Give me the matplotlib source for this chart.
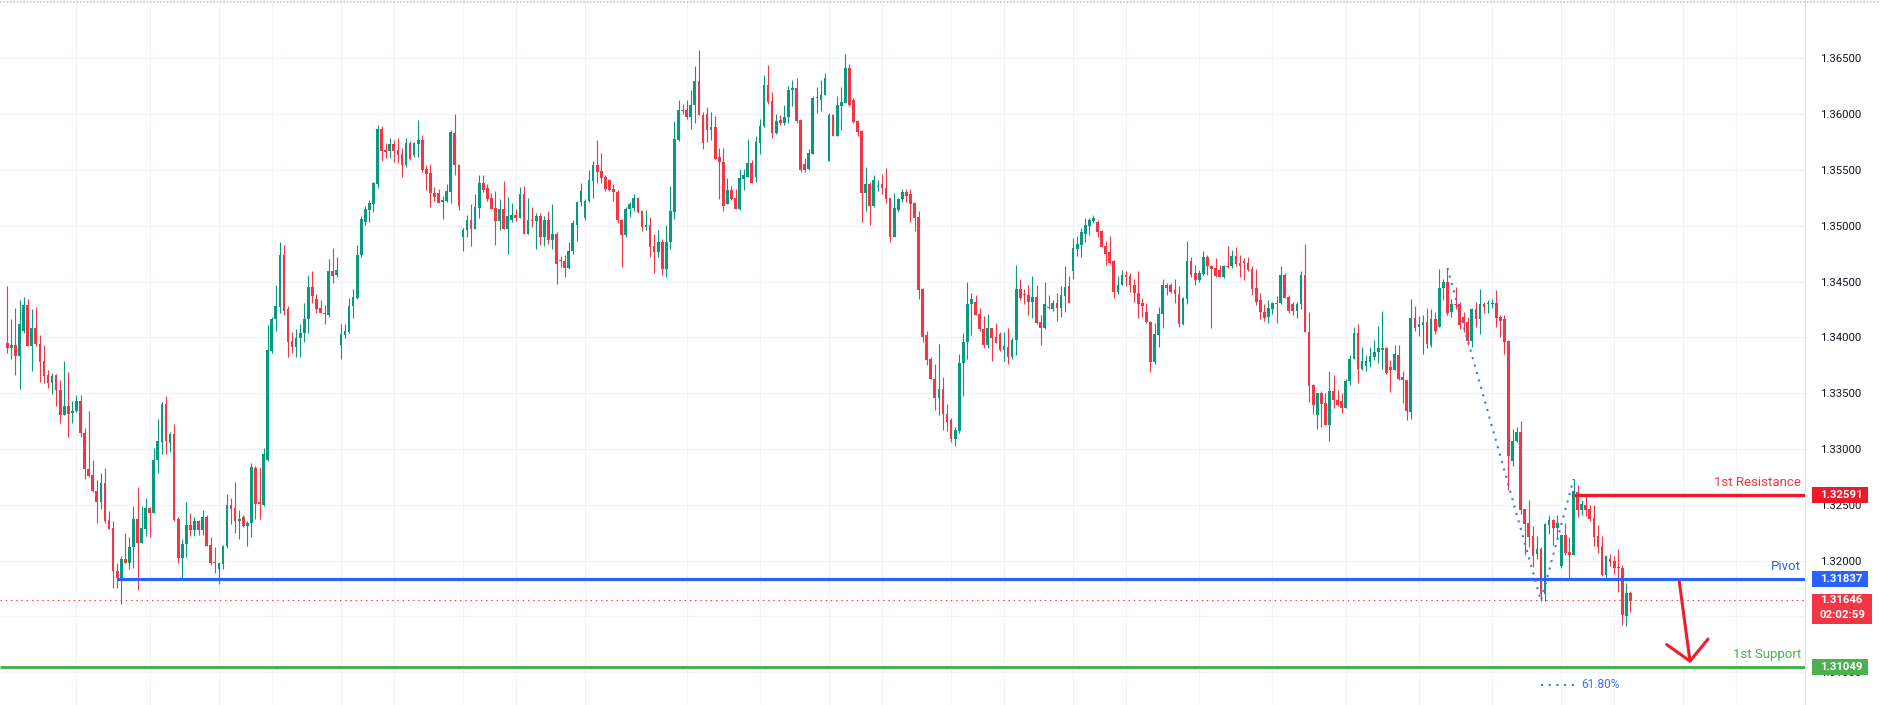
import numpy as np
import matplotlib
matplotlib.use("Agg")
import matplotlib.pyplot as plt
import matplotlib.transforms as mtransforms
from matplotlib.patches import Rectangle
from matplotlib.lines import Line2D

plt.rcParams['font.family'] = ['Roboto', 'DejaVu Sans']

# hourly candles, oldest first
opens = [
    1.3395, 1.3390, 1.3393, 1.3383, 1.3406, 1.3429, 1.3392, 1.3408, 1.3394, 1.3379,
    1.3366, 1.3359, 1.3366, 1.3353, 1.3330, 1.3338, 1.3332, 1.3334, 1.3343, 1.3314,
    1.3282, 1.3277, 1.3262, 1.3252, 1.3269, 1.3236, 1.3229, 1.3191, 1.3184, 1.3201,
    1.3198, 1.3212, 1.3237, 1.3216, 1.3228, 1.3247, 1.3243, 1.3290, 1.3306, 1.3340,
    1.3305, 1.3313, 1.3237, 1.3202, 1.3215, 1.3232, 1.3227, 1.3235, 1.3227, 1.3239,
    1.3214, 1.3199, 1.3192, 1.3197, 1.3213, 1.3250, 1.3247, 1.3235, 1.3239, 1.3231,
    1.3234, 1.3283, 1.3252, 1.3250, 1.3290, 1.3388, 1.3416, 1.3427, 1.3474, 1.3425,
    1.3397, 1.3391, 1.3399, 1.3404, 1.3416, 1.3445, 1.3434, 1.3426, 1.3422, 1.3420,
    1.3459, 1.3456, 1.3393, 1.3402, 1.3405, 1.3428, 1.3435, 1.3474, 1.3503, 1.3514,
    1.3519, 1.3537, 1.3587, 1.3568, 1.3567, 1.3573, 1.3568, 1.3564, 1.3554, 1.3574,
    1.3563, 1.3573, 1.3577, 1.3551, 1.3547, 1.3529, 1.3529, 1.3521, 1.3522, 1.3530,
    1.3583, 1.3554, 1.3490, 1.3496,
    1.3505, 1.3497, 1.3516, 1.3538, 1.3534, 1.3525, 1.3516, 1.3504, 1.3515, 1.3497,
    1.3505, 1.3510, 1.3507, 1.3528, 1.3493, 1.3505, 1.3504, 1.3509, 1.3490, 1.3505,
    1.3487, 1.3493, 1.3469, 1.3468, 1.3462, 1.3477, 1.3501, 1.3521, 1.3507, 1.3522,
    1.3540, 1.3554, 1.3549, 1.3544, 1.3541, 1.3533, 1.3530, 1.3505, 1.3492,
    1.3515, 1.3516, 1.3525, 1.3513, 1.3499, 1.3501, 1.3482, 1.3476, 1.3485, 1.3461,
    1.3485, 1.3512, 1.3577, 1.3604, 1.3604, 1.3597, 1.3608, 1.3630, 1.3599, 1.3600,
    1.3586, 1.3588, 1.3562, 1.3557, 1.3519, 1.3532, 1.3525, 1.3515, 1.3542, 1.3544,
    1.3556, 1.3544, 1.3574, 1.3589, 1.3626, 1.3612, 1.3583, 1.3595, 1.3592,
    1.3597, 1.3622, 1.3623, 1.3595, 1.3555, 1.3551, 1.3564, 1.3614, 1.3613, 1.3617,
    1.3558, 1.3599, 1.3580, 1.3607, 1.3610, 1.3641, 1.3613, 1.3594, 1.3585, 1.3529,
    1.3537, 1.3518, 1.3535, 1.3537, 1.3534, 1.3525, 1.3490, 1.3514, 1.3524, 1.3530,
    1.3528, 1.3520, 1.3508, 1.3443, 1.3402, 1.3381, 1.3363,
    1.3346, 1.3354, 1.3331, 1.3326, 1.3309, 1.3316, 1.3377, 1.3396, 1.3430, 1.3432,
    1.3421, 1.3407, 1.3393, 1.3408, 1.3400, 1.3403, 1.3389, 1.3391, 1.3382, 1.3398,
    1.3443, 1.3439, 1.3438, 1.3432, 1.3436, 1.3414, 1.3408, 1.3427, 1.3425, 1.3431,
    1.3426, 1.3437, 1.3446, 1.3459, 1.3479, 1.3483, 1.3493, 1.3500, 1.3504, 1.3503,
    1.3495, 1.3482, 1.3476, 1.3468, 1.3441, 1.3447, 1.3456, 1.3455, 1.3447, 1.3440,
    1.3431, 1.3423, 1.3414, 1.3378, 1.3402, 1.3421, 1.3447, 1.3447, 1.3442,
    1.3439, 1.3412, 1.3434, 1.3468, 1.3458, 1.3451, 1.3457, 1.3472, 1.3464, 1.3462,
    1.3460, 1.3454, 1.3464, 1.3464, 1.3473, 1.3467, 1.3468, 1.3467, 1.3461, 1.3444,
    1.3433, 1.3423, 1.3418, 1.3425, 1.3431, 1.3431, 1.3456, 1.3436, 1.3430, 1.3424,
    1.3430, 1.3456, 1.3405, 1.3357, 1.3330, 1.3350, 1.3341, 1.3321, 1.3352, 1.3344,
    1.3343, 1.3337, 1.3361, 1.3381, 1.3404, 1.3372, 1.3374, 1.3378, 1.3382, 1.3387,
    1.3389, 1.3390, 1.3373, 1.3371, 1.3384, 1.3364, 1.3362,
    1.3333, 1.3417, 1.3409, 1.3411, 1.3414, 1.3393, 1.3416, 1.3409, 1.3444, 1.3450,
    1.3423, 1.3430, 1.3430, 1.3418, 1.3414, 1.3397, 1.3425, 1.3416, 1.3430, 1.3430,
    1.3430, 1.3431, 1.3418, 1.3416, 1.3397, 1.3289, 1.3307, 1.3315, 1.3246, 1.3234,
    1.3222, 1.3206, 1.3210, 1.3170, 1.3232, 1.3236, 1.3229, 1.3195, 1.3223, 1.3208,
    1.3205, 1.3261, 1.3245, 1.3250, 1.3246, 1.3238, 1.3222, 1.3213, 1.3187, 1.3201,
    1.3200, 1.3194, 1.3193, 1.3150, 1.3171,
]
highs = [
    1.3446, 1.3416, 1.3426, 1.3433, 1.3436, 1.3434, 1.3425, 1.3427, 1.3402, 1.3393,
    1.3371, 1.3368, 1.3367, 1.3362, 1.3379, 1.3369, 1.3343, 1.3348, 1.3348, 1.3319,
    1.3334, 1.3290, 1.3272, 1.3278, 1.3283, 1.3244, 1.3235, 1.3198, 1.3204, 1.3225,
    1.3221, 1.3249, 1.3266, 1.3249, 1.3256, 1.3248, 1.3301, 1.3327, 1.3342, 1.3347,
    1.3315, 1.3322, 1.3239, 1.3219, 1.3252, 1.3243, 1.3239, 1.3236, 1.3245, 1.3241,
    1.3221, 1.3212, 1.3199, 1.3214, 1.3260, 1.3256, 1.3270, 1.3245, 1.3241, 1.3235,
    1.3287, 1.3285, 1.3284, 1.3301, 1.3411, 1.3418, 1.3447, 1.3485, 1.3483, 1.3428,
    1.3405, 1.3407, 1.3412, 1.3431, 1.3456, 1.3459, 1.3439, 1.3433, 1.3429, 1.3470,
    1.3480, 1.3472, 1.3412, 1.3412, 1.3435, 1.3443, 1.3483, 1.3509, 1.3518, 1.3523,
    1.3539, 1.3590, 1.3589, 1.3574, 1.3579, 1.3577, 1.3579, 1.3570, 1.3579, 1.3576,
    1.3575, 1.3595, 1.3581, 1.3554, 1.3555, 1.3535, 1.3533, 1.3527, 1.3537, 1.3586,
    1.3600, 1.3555, 1.3498, 1.3510,
    1.3519, 1.3528, 1.3545, 1.3545, 1.3537, 1.3529, 1.3531, 1.3524, 1.3540, 1.3526,
    1.3520, 1.3515, 1.3535, 1.3536, 1.3525, 1.3517, 1.3511, 1.3511, 1.3509, 1.3513,
    1.3519, 1.3494, 1.3473, 1.3474, 1.3485, 1.3505, 1.3522, 1.3538, 1.3524, 1.3550,
    1.3558, 1.3577, 1.3565, 1.3545, 1.3542, 1.3537, 1.3532, 1.3506, 1.3517,
    1.3521, 1.3528, 1.3526, 1.3514, 1.3514, 1.3508, 1.3493, 1.3496, 1.3488, 1.3501,
    1.3536, 1.3594, 1.3613, 1.3609, 1.3613, 1.3622, 1.3643, 1.3657, 1.3602, 1.3606,
    1.3602, 1.3598, 1.3570, 1.3570, 1.3543, 1.3536, 1.3533, 1.3551, 1.3551, 1.3578,
    1.3559, 1.3580, 1.3596, 1.3635, 1.3644, 1.3620, 1.3600, 1.3599, 1.3608,
    1.3625, 1.3631, 1.3632, 1.3596, 1.3561, 1.3569, 1.3616, 1.3624, 1.3631, 1.3637,
    1.3601, 1.3600, 1.3616, 1.3624, 1.3654, 1.3645, 1.3614, 1.3595, 1.3586, 1.3553,
    1.3539, 1.3545, 1.3541, 1.3546, 1.3552, 1.3525, 1.3529, 1.3525, 1.3533, 1.3533,
    1.3533, 1.3521, 1.3513, 1.3444, 1.3406, 1.3382, 1.3376,
    1.3394, 1.3364, 1.3340, 1.3328, 1.3320, 1.3385, 1.3404, 1.3450, 1.3440, 1.3438,
    1.3426, 1.3419, 1.3421, 1.3408, 1.3413, 1.3405, 1.3405, 1.3408, 1.3399, 1.3465,
    1.3452, 1.3443, 1.3447, 1.3455, 1.3447, 1.3420, 1.3450, 1.3438, 1.3433, 1.3440,
    1.3446, 1.3464, 1.3455, 1.3489, 1.3491, 1.3498, 1.3507, 1.3507, 1.3510, 1.3505,
    1.3496, 1.3486, 1.3491, 1.3469, 1.3455, 1.3460, 1.3459, 1.3458, 1.3452, 1.3459,
    1.3435, 1.3431, 1.3415, 1.3413, 1.3427, 1.3452, 1.3449, 1.3449, 1.3452,
    1.3446, 1.3436, 1.3486, 1.3472, 1.3465, 1.3460, 1.3477, 1.3474, 1.3465, 1.3471,
    1.3465, 1.3465, 1.3482, 1.3478, 1.3481, 1.3474, 1.3471, 1.3472, 1.3464, 1.3461,
    1.3440, 1.3430, 1.3433, 1.3432, 1.3437, 1.3464, 1.3458, 1.3438, 1.3432, 1.3432,
    1.3459, 1.3484, 1.3423, 1.3358, 1.3350, 1.3352, 1.3350, 1.3370, 1.3366, 1.3353,
    1.3350, 1.3363, 1.3384, 1.3409, 1.3412, 1.3391, 1.3384, 1.3391, 1.3398, 1.3410,
    1.3424, 1.3391, 1.3380, 1.3393, 1.3393, 1.3370, 1.3362,
    1.3434, 1.3428, 1.3419, 1.3420, 1.3426, 1.3425, 1.3423, 1.3461, 1.3452, 1.3462,
    1.3434, 1.3445, 1.3432, 1.3423, 1.3418, 1.3426, 1.3432, 1.3443, 1.3432, 1.3433,
    1.3434, 1.3442, 1.3420, 1.3420, 1.3398, 1.3318, 1.3320, 1.3325, 1.3246, 1.3254,
    1.3231, 1.3222, 1.3212, 1.3234, 1.3241, 1.3237, 1.3241, 1.3223, 1.3234, 1.3221,
    1.3273, 1.3268, 1.3254, 1.3258, 1.3250, 1.3250, 1.3232, 1.3222, 1.3205, 1.3206,
    1.3204, 1.3210, 1.3196, 1.3180, 1.3173,
]
lows = [
    1.3386, 1.3381, 1.3366, 1.3354, 1.3404, 1.3392, 1.3370, 1.3392, 1.3360, 1.3359,
    1.3355, 1.3349, 1.3338, 1.3323, 1.3330, 1.3311, 1.3323, 1.3333, 1.3311, 1.3273,
    1.3275, 1.3261, 1.3234, 1.3246, 1.3234, 1.3228, 1.3175, 1.3175, 1.3161, 1.3198,
    1.3192, 1.3193, 1.3174, 1.3216, 1.3222, 1.3221, 1.3243, 1.3278, 1.3295, 1.3295,
    1.3297, 1.3235, 1.3198, 1.3183, 1.3203, 1.3222, 1.3222, 1.3223, 1.3223, 1.3213,
    1.3196, 1.3189, 1.3179, 1.3192, 1.3211, 1.3233, 1.3225, 1.3219, 1.3230, 1.3213,
    1.3221, 1.3237, 1.3237, 1.3249, 1.3289, 1.3386, 1.3406, 1.3422, 1.3420, 1.3382,
    1.3386, 1.3382, 1.3382, 1.3396, 1.3404, 1.3431, 1.3422, 1.3422, 1.3412, 1.3418,
    1.3449, 1.3454, 1.3381, 1.3399, 1.3404, 1.3417, 1.3434, 1.3472, 1.3501, 1.3503,
    1.3512, 1.3534, 1.3558, 1.3561, 1.3561, 1.3557, 1.3556, 1.3544, 1.3553, 1.3559,
    1.3562, 1.3562, 1.3548, 1.3532, 1.3517, 1.3522, 1.3520, 1.3506, 1.3521, 1.3520,
    1.3545, 1.3514, 1.3477, 1.3490,
    1.3482, 1.3497, 1.3507, 1.3530, 1.3522, 1.3515, 1.3483, 1.3496, 1.3497, 1.3475,
    1.3503, 1.3504, 1.3507, 1.3493, 1.3493, 1.3499, 1.3479, 1.3483, 1.3482, 1.3484,
    1.3479, 1.3448, 1.3463, 1.3454, 1.3461, 1.3475, 1.3486, 1.3518, 1.3505, 1.3521,
    1.3525, 1.3538, 1.3538, 1.3531, 1.3531, 1.3522, 1.3502, 1.3463, 1.3490,
    1.3508, 1.3513, 1.3511, 1.3495, 1.3496, 1.3472, 1.3458, 1.3472, 1.3456, 1.3454,
    1.3479, 1.3506, 1.3576, 1.3600, 1.3596, 1.3587, 1.3592, 1.3599, 1.3569, 1.3575,
    1.3577, 1.3560, 1.3524, 1.3513, 1.3519, 1.3523, 1.3515, 1.3514, 1.3532, 1.3544,
    1.3538, 1.3539, 1.3564, 1.3588, 1.3609, 1.3579, 1.3582, 1.3590, 1.3590,
    1.3592, 1.3607, 1.3592, 1.3548, 1.3548, 1.3550, 1.3564, 1.3601, 1.3603, 1.3617,
    1.3558, 1.3580, 1.3580, 1.3586, 1.3610, 1.3607, 1.3592, 1.3580, 1.3503, 1.3513,
    1.3501, 1.3517, 1.3531, 1.3528, 1.3520, 1.3485, 1.3490, 1.3512, 1.3521, 1.3521,
    1.3503, 1.3495, 1.3434, 1.3396, 1.3375, 1.3363, 1.3335,
    1.3330, 1.3317, 1.3316, 1.3306, 1.3303, 1.3314, 1.3347, 1.3381, 1.3402, 1.3420,
    1.3406, 1.3390, 1.3390, 1.3379, 1.3395, 1.3388, 1.3379, 1.3376, 1.3381, 1.3384,
    1.3433, 1.3430, 1.3420, 1.3417, 1.3412, 1.3393, 1.3407, 1.3425, 1.3424, 1.3415,
    1.3418, 1.3423, 1.3431, 1.3452, 1.3473, 1.3472, 1.3485, 1.3492, 1.3502, 1.3490,
    1.3481, 1.3465, 1.3466, 1.3435, 1.3439, 1.3447, 1.3446, 1.3441, 1.3432, 1.3417,
    1.3418, 1.3413, 1.3369, 1.3376, 1.3391, 1.3408, 1.3438, 1.3440, 1.3431,
    1.3409, 1.3411, 1.3430, 1.3454, 1.3447, 1.3450, 1.3456, 1.3456, 1.3408, 1.3454,
    1.3454, 1.3453, 1.3462, 1.3462, 1.3464, 1.3454, 1.3451, 1.3459, 1.3438, 1.3429,
    1.3416, 1.3415, 1.3413, 1.3421, 1.3413, 1.3430, 1.3435, 1.3422, 1.3420, 1.3417,
    1.3425, 1.3405, 1.3342, 1.3331, 1.3318, 1.3320, 1.3321, 1.3307, 1.3337, 1.3338,
    1.3332, 1.3337, 1.3357, 1.3381, 1.3359, 1.3371, 1.3370, 1.3373, 1.3380, 1.3377,
    1.3372, 1.3367, 1.3351, 1.3371, 1.3362, 1.3341, 1.3326,
    1.3327, 1.3406, 1.3401, 1.3385, 1.3390, 1.3391, 1.3403, 1.3409, 1.3433, 1.3420,
    1.3418, 1.3425, 1.3407, 1.3405, 1.3393, 1.3391, 1.3409, 1.3403, 1.3422, 1.3422,
    1.3426, 1.3409, 1.3400, 1.3385, 1.3263, 1.3285, 1.3306, 1.3242, 1.3205, 1.3212,
    1.3194, 1.3201, 1.3164, 1.3164, 1.3224, 1.3214, 1.3219, 1.3193, 1.3205, 1.3184,
    1.3205, 1.3239, 1.3241, 1.3240, 1.3235, 1.3213, 1.3207, 1.3186, 1.3184, 1.3195,
    1.3188, 1.3172, 1.3142, 1.3141, 1.3154,
]
closes = [
    1.3390, 1.3393, 1.3383, 1.3412, 1.3429, 1.3392, 1.3408, 1.3394, 1.3378, 1.3365,
    1.3359, 1.3365, 1.3353, 1.3330, 1.3338, 1.3331, 1.3334, 1.3343, 1.3314, 1.3282,
    1.3276, 1.3262, 1.3252, 1.3269, 1.3235, 1.3228, 1.3191, 1.3184, 1.3201, 1.3198,
    1.3212, 1.3237, 1.3216, 1.3229, 1.3247, 1.3243, 1.3290, 1.3307, 1.3340, 1.3307,
    1.3313, 1.3236, 1.3202, 1.3215, 1.3232, 1.3227, 1.3235, 1.3227, 1.3239, 1.3213,
    1.3198, 1.3198, 1.3198, 1.3213, 1.3250, 1.3246, 1.3235, 1.3237, 1.3231, 1.3234,
    1.3284, 1.3251, 1.3251, 1.3295, 1.3389, 1.3416, 1.3428, 1.3474, 1.3424, 1.3396,
    1.3391, 1.3399, 1.3404, 1.3416, 1.3445, 1.3437, 1.3425, 1.3422, 1.3421, 1.3459,
    1.3455, 1.3460, 1.3403, 1.3406, 1.3428, 1.3436, 1.3474, 1.3506, 1.3515, 1.3520,
    1.3538, 1.3587, 1.3567, 1.3566, 1.3573, 1.3567, 1.3563, 1.3554, 1.3574, 1.3560,
    1.3574, 1.3577, 1.3550, 1.3546, 1.3529, 1.3526, 1.3520, 1.3523, 1.3531, 1.3584,
    1.3554, 1.3518, 1.3496, 1.3505,
    1.3497, 1.3517, 1.3538, 1.3532, 1.3524, 1.3515, 1.3504, 1.3515, 1.3497, 1.3509,
    1.3510, 1.3507, 1.3528, 1.3493, 1.3505, 1.3504, 1.3509, 1.3490, 1.3505, 1.3487,
    1.3493, 1.3466, 1.3468, 1.3462, 1.3477, 1.3502, 1.3521, 1.3531, 1.3522, 1.3541,
    1.3554, 1.3548, 1.3543, 1.3533, 1.3532, 1.3530, 1.3505, 1.3492, 1.3515,
    1.3519, 1.3525, 1.3512, 1.3499, 1.3501, 1.3481, 1.3476, 1.3485, 1.3461, 1.3485,
    1.3513, 1.3578, 1.3604, 1.3603, 1.3597, 1.3608, 1.3630, 1.3599, 1.3574, 1.3586,
    1.3588, 1.3560, 1.3557, 1.3518, 1.3532, 1.3524, 1.3515, 1.3543, 1.3545, 1.3556,
    1.3538, 1.3575, 1.3589, 1.3626, 1.3611, 1.3583, 1.3594, 1.3592, 1.3597,
    1.3622, 1.3623, 1.3594, 1.3550, 1.3550, 1.3565, 1.3614, 1.3615, 1.3617, 1.3632,
    1.3599, 1.3580, 1.3608, 1.3611, 1.3641, 1.3608, 1.3593, 1.3584, 1.3529, 1.3537,
    1.3518, 1.3541, 1.3536, 1.3534, 1.3524, 1.3490, 1.3516, 1.3524, 1.3530, 1.3527,
    1.3519, 1.3507, 1.3442, 1.3400, 1.3380, 1.3363, 1.3346,
    1.3354, 1.3331, 1.3324, 1.3309, 1.3317, 1.3377, 1.3396, 1.3430, 1.3434, 1.3420,
    1.3407, 1.3393, 1.3408, 1.3399, 1.3395, 1.3389, 1.3392, 1.3382, 1.3398, 1.3443,
    1.3435, 1.3438, 1.3432, 1.3436, 1.3413, 1.3408, 1.3430, 1.3426, 1.3431, 1.3426,
    1.3438, 1.3445, 1.3431, 1.3480, 1.3484, 1.3494, 1.3501, 1.3505, 1.3507, 1.3494,
    1.3481, 1.3475, 1.3467, 1.3441, 1.3447, 1.3456, 1.3454, 1.3447, 1.3440, 1.3430,
    1.3428, 1.3414, 1.3378, 1.3403, 1.3421, 1.3447, 1.3444, 1.3441, 1.3439,
    1.3412, 1.3435, 1.3468, 1.3456, 1.3451, 1.3458, 1.3472, 1.3464, 1.3461, 1.3455,
    1.3454, 1.3464, 1.3463, 1.3473, 1.3466, 1.3464, 1.3467, 1.3460, 1.3443, 1.3432,
    1.3423, 1.3417, 1.3426, 1.3431, 1.3430, 1.3456, 1.3435, 1.3424, 1.3424, 1.3430,
    1.3456, 1.3405, 1.3356, 1.3339, 1.3350, 1.3340, 1.3321, 1.3352, 1.3344, 1.3339,
    1.3337, 1.3361, 1.3381, 1.3404, 1.3372, 1.3379, 1.3379, 1.3383, 1.3387, 1.3390,
    1.3390, 1.3368, 1.3371, 1.3385, 1.3363, 1.3362, 1.3334,
    1.3417, 1.3408, 1.3412, 1.3414, 1.3394, 1.3416, 1.3406, 1.3444, 1.3450, 1.3422,
    1.3430, 1.3429, 1.3411, 1.3413, 1.3397, 1.3425, 1.3416, 1.3430, 1.3427, 1.3431,
    1.3431, 1.3417, 1.3415, 1.3396, 1.3294, 1.3307, 1.3315, 1.3245, 1.3233, 1.3221,
    1.3204, 1.3210, 1.3170, 1.3233, 1.3236, 1.3229, 1.3234, 1.3223, 1.3207, 1.3205,
    1.3262, 1.3245, 1.3251, 1.3245, 1.3237, 1.3221, 1.3212, 1.3187, 1.3204, 1.3199,
    1.3193, 1.3193, 1.3151, 1.3171, 1.3164,
]

n = len(closes)
assert len(opens) == len(highs) == len(lows) == n

# levels drawn on the chart
resistance = 1.32591
pivot = 1.31837
support = 1.31049
last_price = 1.31646
countdown = "02:02:59"

# fib extension anchors (bar index, price) and its level
fib_bars = [354, 377, 385]
fib_prices = [1.3462, 1.3164, 1.3273]
fib_ratio = 0.618

# hand drawn arrow (bar index, price)
arrow_bars = [411.0, 413.7]
arrow_prices = [1.3181, 1.3108]

day_lines = [17, 35, 52, 65, 82, 95, 112, 125, 142, 167, 185, 202, 215,
             232, 245, 262, 275, 293, 311, 329, 347, 365, 382, 395, 412, 425]
price_ticks = [1.310, 1.315, 1.320, 1.325, 1.330, 1.335, 1.340,
               1.345, 1.350, 1.355, 1.360, 1.365]

GREEN = '#089981'
RED = '#f23645'
RES = '#f0182a'
BLUE = '#2962ff'
SUP = '#4caf50'
GRID = '#f0f3fa'

W, H = 1881, 705
fig = plt.figure(figsize=(W / 100, H / 100), dpi=100)
fig.patch.set_facecolor('white')
ax = fig.add_axes([0, 0, 1805 / W, 1])
x0, x1 = -1.8, 441.9
y0, y1 = 1.307052, 1.370224
ax.set_xlim(x0, x1)
ax.set_ylim(y0, y1)
ppx = (y1 - y0) / H  # price per pixel

# grid + axis
ax.set_xticks(day_lines)
ax.set_yticks(price_ticks)
ax.grid(True, color=GRID, lw=0.8, zorder=0)
ax.set_axisbelow(True)
ax.tick_params(axis='x', length=0, labelbottom=False)
ax.yaxis.tick_right()
ax.tick_params(axis='y', length=0, pad=11, labelsize=8.2, labelcolor='#131722')
ax.yaxis.set_major_formatter(plt.FormatStrFormatter('%.5f'))
for s in ['top', 'left', 'bottom']:
    ax.spines[s].set_visible(False)
ax.spines['right'].set_color('#e0e3eb')

# candles
o = np.array(opens)
h = np.array(highs)
l = np.array(lows)
c = np.array(closes)
xs = np.arange(n)
cols = np.where(c >= o, GREEN, RED)
ax.vlines(xs, l, h, colors=cols, lw=0.8, zorder=3)
body_lo = np.minimum(o, c)
body_h = np.maximum(np.abs(c - o), 0.00009)
ax.bar(xs, body_h, bottom=body_lo, width=0.66, color=cols, lw=0, zorder=4)

# price line of the last bar
ax.plot([x0, x1], [last_price] * 2, color=RED, lw=0.8, ls=(0, (1.3, 3.4)), zorder=2)

# support / pivot / resistance
ax.plot([x0, x1], [support] * 2, color=SUP, lw=2.2, zorder=5, solid_capstyle='butt')
ax.plot([27, x1], [pivot] * 2, color=BLUE, lw=2.3, zorder=5, solid_capstyle='butt')
ax.plot([385, x1], [resistance] * 2, color=RES, lw=2.4, zorder=5, solid_capstyle='butt')

blend = mtransforms.blended_transform_factory(ax.transAxes, ax.transData)
for txt, lvl, col in [('1st Resistance', resistance, RED), ('Pivot', pivot, BLUE),
                      ('1st Support', support, SUP)]:
    ax.annotate(txt, xy=(1, lvl), xycoords=blend, xytext=(-4, 12),
                textcoords='offset pixels', ha='right', va='center',
                color=col, fontsize=9.5, zorder=7)

# fib extension drawing
fib_col = '#3d72f7'
ax.plot(fib_bars, fib_prices, color=fib_col, lw=1.5, ls=(0, (1, 2.7)), zorder=6)
fib_level = fib_prices[2] - fib_ratio * (fib_prices[0] - fib_prices[1])
ax.plot([fib_bars[1], fib_bars[2]], [fib_level] * 2, color=fib_col, lw=1.5,
        ls=(0, (1, 2.7)), zorder=6)
ax.annotate('61.80%', xy=(fib_bars[2], fib_level), xytext=(8, 0),
            textcoords='offset pixels', ha='left', va='center',
            color=fib_col, fontsize=8.6, zorder=7)

# arrow
ax.annotate('', xy=(arrow_bars[1], arrow_prices[1]), xytext=(arrow_bars[0], arrow_prices[0]),
            arrowprops=dict(arrowstyle='->,head_length=1.4,head_width=1.5', color='#ee1c2e',
                            lw=2.2, shrinkA=0, shrinkB=0, mutation_scale=10), zorder=8)

# price tags on the axis
tagx = mtransforms.blended_transform_factory(fig.transFigure, ax.transData)


def tag(price, text, color, width=56, top=7.5, bottom=8.5, sub=None):
    ax.add_patch(Rectangle((1812 / W, price - bottom * ppx), width / W, (top + bottom) * ppx,
                           transform=tagx, facecolor=color, edgecolor='none',
                           clip_on=False, zorder=20))
    ax.text(1820 / W, price, text, transform=tagx, ha='left', va='center',
            color='white', fontsize=8.2, fontweight='bold', clip_on=False, zorder=21)
    if sub:
        ax.text(1820 / W, price - 15 * ppx, sub, transform=tagx, ha='left', va='center',
                color='white', fontsize=8.2, fontweight='bold', clip_on=False, zorder=21)


tag(resistance, '%.5f' % resistance, RES)
tag(pivot, '%.5f' % pivot, BLUE)
tag(last_price, '%.5f' % last_price, RED, width=60, top=6.5, bottom=23.5, sub=countdown)
tag(support, '%.5f' % support, SUP)

# dotted border on top
fig.add_artist(Line2D([0, 1], [1 - 1.5 / H] * 2, transform=fig.transFigure,
                      color='#c8cacf', lw=1.2, ls=(0, (1, 1))))

fig.savefig('out.png', dpi=100)
